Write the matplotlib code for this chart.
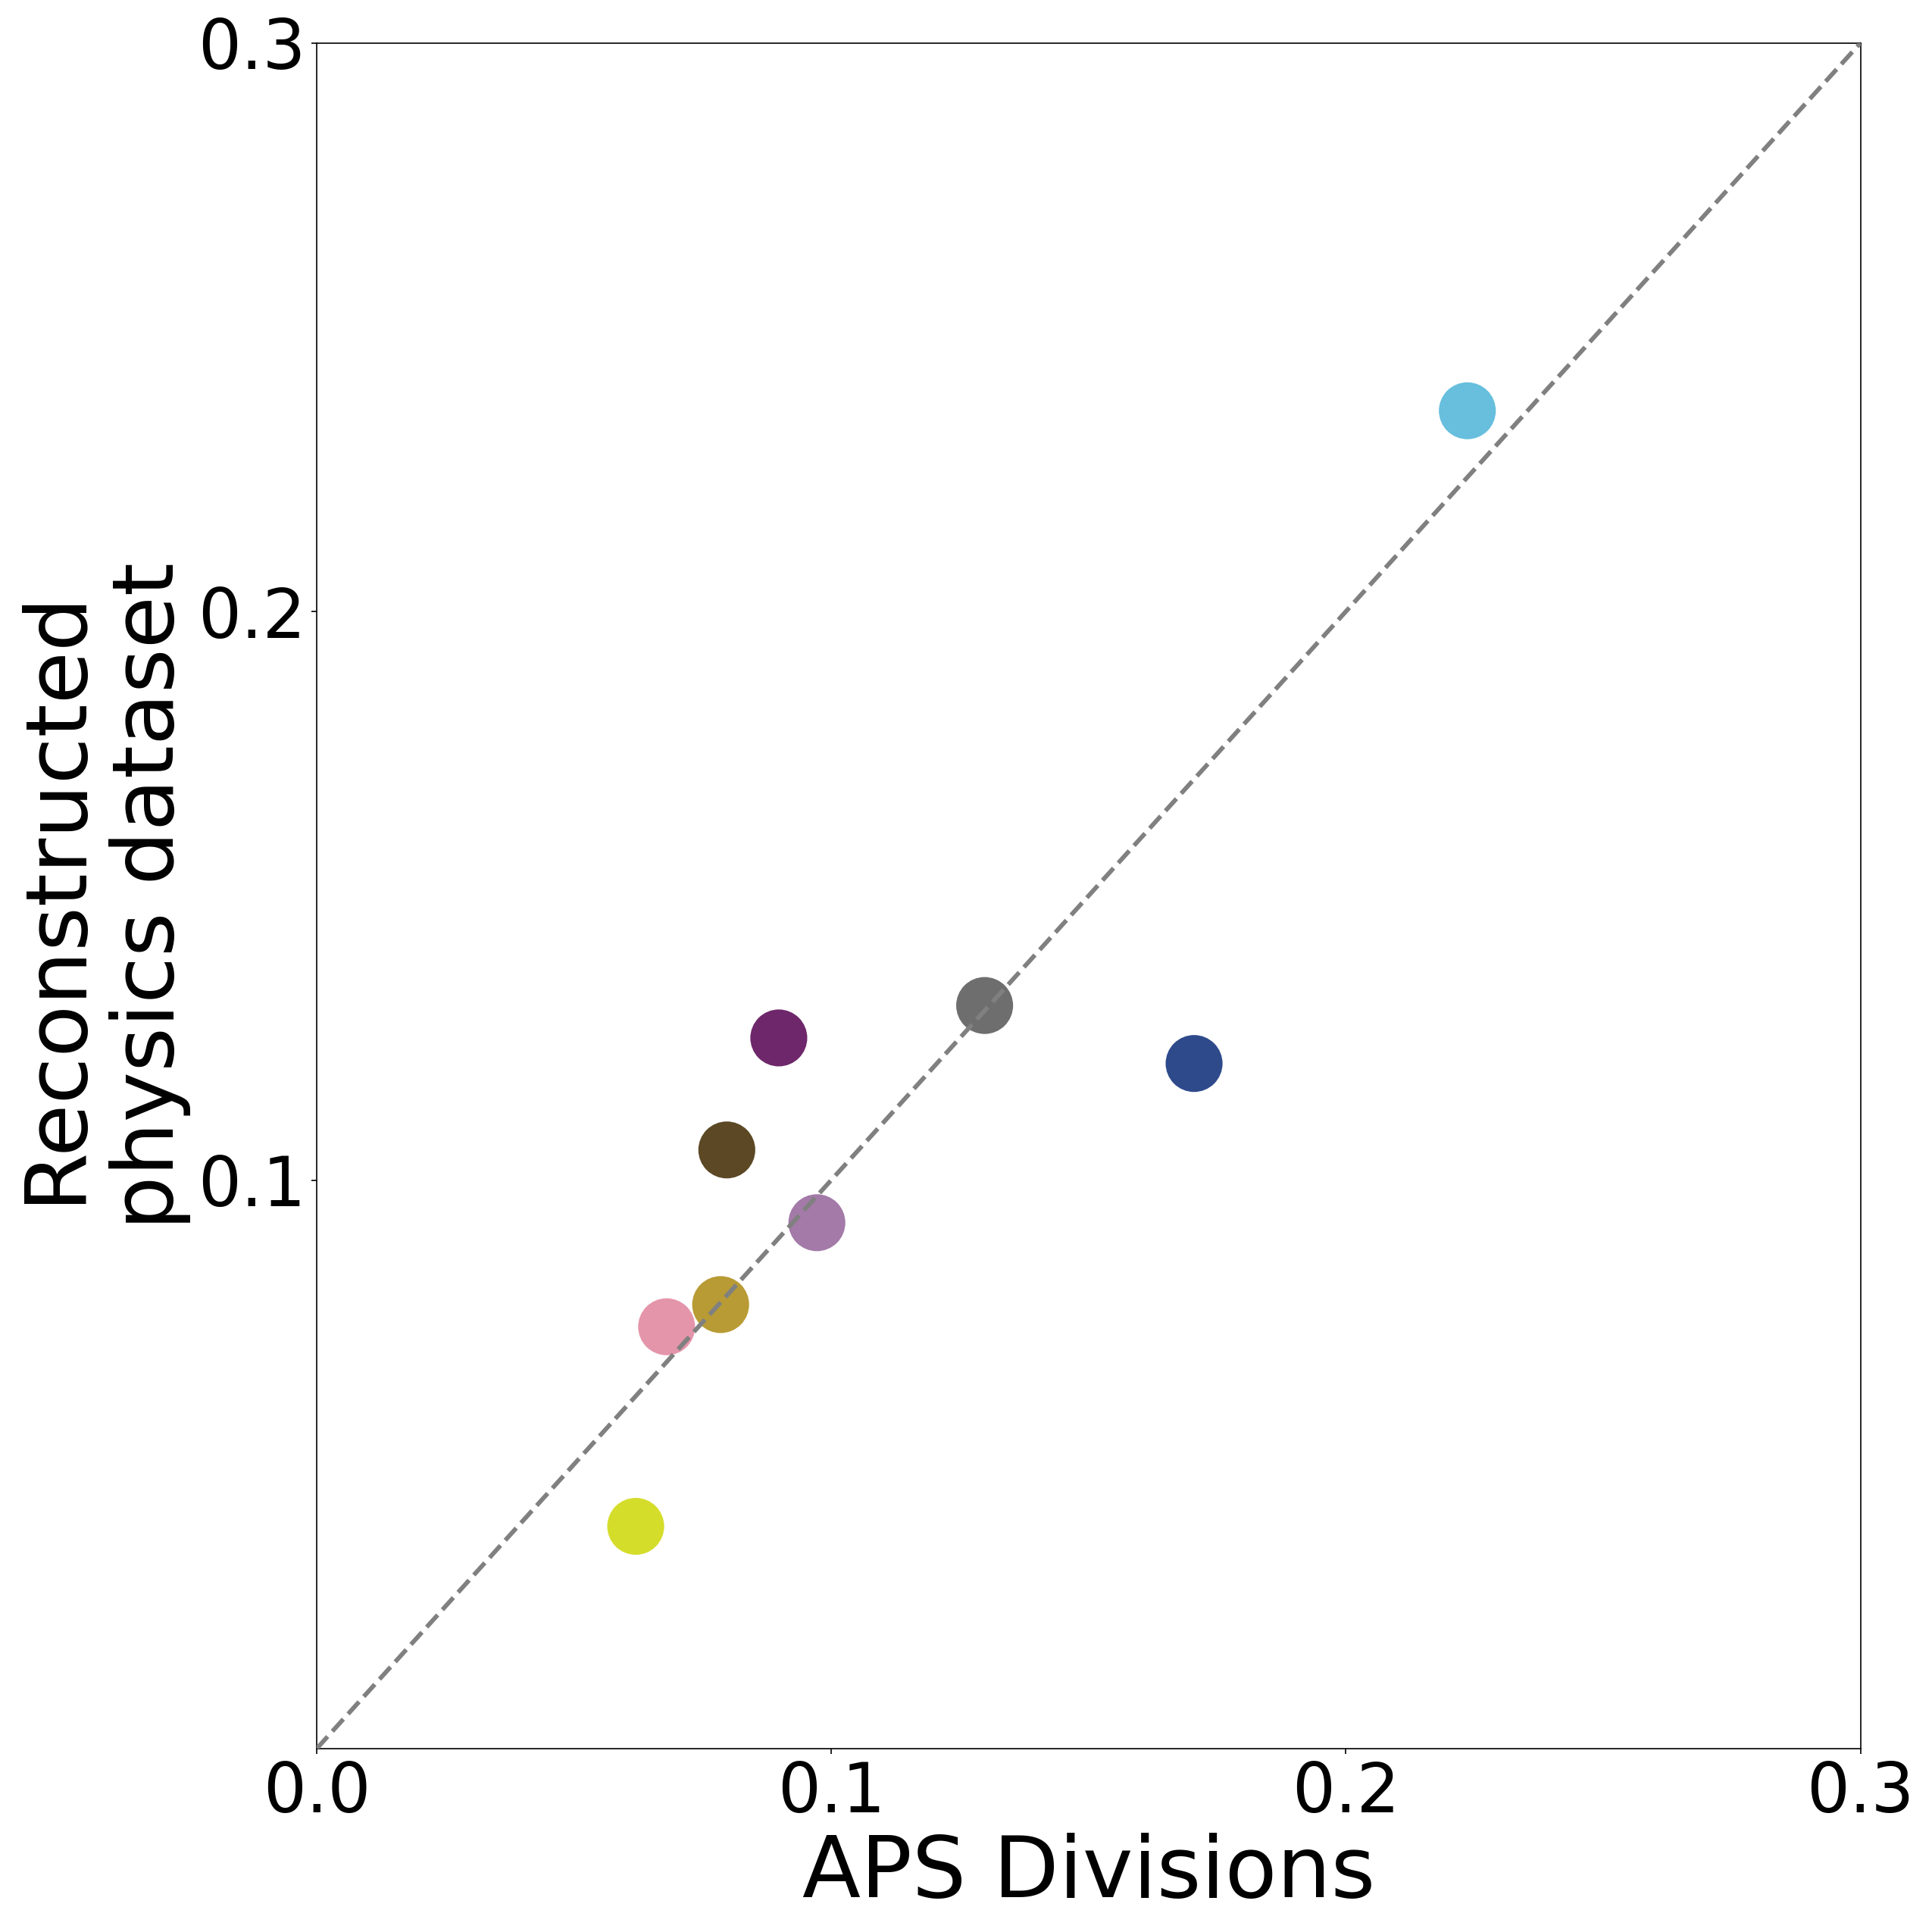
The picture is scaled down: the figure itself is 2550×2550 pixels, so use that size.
import matplotlib
matplotlib.use("Agg")
import matplotlib.pyplot as plt

# Data
aps_divisions = [0.2236, 0.1298, 0.1705, 0.0898, 0.0797, 0.0972, 0.0680, 0.0785, 0.0620]
reconstructed = [0.2353, 0.1307, 0.1205, 0.1250, 0.1053, 0.0925, 0.0742, 0.0781, 0.0391]
colors = ["#67BFDD", "#6E6E6E", "#2E4A8B", "#6E276B", "#5C4824",
          "#A37AA8", "#E495AA", "#B89B34", "#D5DD2B"]
xticks = [0.0, 0.1, 0.2, 0.3]
xtick_labels = ["0.0", "0.1", "0.2", "0.3"]
yticks = [0.1, 0.2, 0.3]
ytick_labels = ["0.1", "0.2", "0.3"]

fig = plt.figure(figsize=(17, 17), dpi=150)
ax = fig.add_axes([0.1639, 0.0949, 0.7991, 0.8829])

ax.scatter(aps_divisions, reconstructed, s=1300, c=colors, linewidths=0, zorder=2)
ax.plot([0, 0.3], [0, 0.3], linestyle="--", color="gray", linewidth=2.8, zorder=3)

ax.set_xlim(0, 0.3)
ax.set_ylim(0, 0.3)
ax.set_xticks(xticks)
ax.set_xticklabels(xtick_labels)
ax.set_yticks(yticks)
ax.set_yticklabels(ytick_labels)
ax.tick_params(labelsize=43)
ax.set_xlabel("APS Divisions", fontsize=54)
ax.set_ylabel("Reconstructed\nphysics dataset", fontsize=54)

fig.savefig("out.png", dpi=150)
